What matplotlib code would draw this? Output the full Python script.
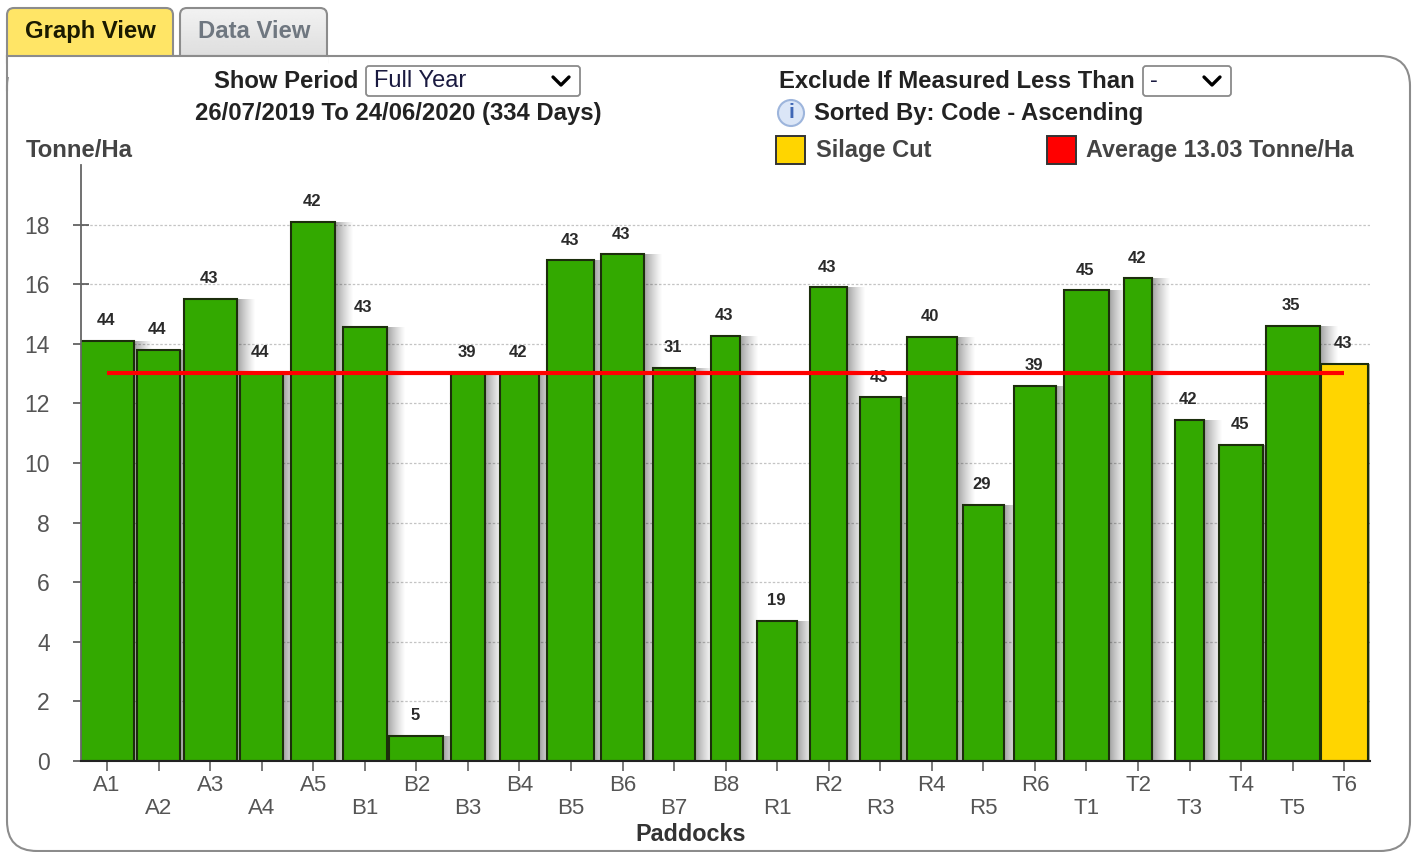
import numpy as np
import matplotlib
matplotlib.use('Agg')
import matplotlib.pyplot as plt
from matplotlib.patches import FancyBboxPatch, Rectangle, Circle

plt.rcParams['font.family'] = ['Liberation Sans', 'DejaVu Sans']

# Data
paddocks = ['A1', 'A2', 'A3', 'A4', 'A5', 'B1', 'B2', 'B3', 'B4', 'B5', 'B6', 'B7', 'B8',
            'R1', 'R2', 'R3', 'R4', 'R5', 'R6', 'T1', 'T2', 'T3', 'T4', 'T5', 'T6']
tonne_ha = [14.1, 13.8, 15.5, 13.03, 18.1, 14.55, 0.85, 13.03, 13.03, 16.8, 17.0, 13.2, 14.27,
            4.7, 15.9, 12.2, 14.23, 8.6, 12.6, 15.8, 16.2, 11.45, 10.6, 14.6, 13.33]
measured = [44, 44, 43, 44, 42, 43, 5, 39, 42, 43, 43, 31, 43,
            19, 43, 43, 40, 29, 39, 45, 42, 42, 45, 35, 43]
# bar widths differ per paddock, in category units
bar_widths = [1.03, 0.85, 1.03, 0.83, 0.85, 0.85, 1.05, 0.66, 0.76, 0.91, 0.82, 0.82, 0.56,
              0.78, 0.72, 0.80, 0.97, 0.80, 0.82, 0.89, 0.54, 0.58, 0.85, 1.05, 0.91]
silage_cut = ['T6']
average = 13.03

W, H = 1415, 852
GREEN = '#33a900'
YELLOW = '#ffd500'
EDGE = '#1c2e0c'
TXT = '#222222'

fig = plt.figure(figsize=(W / 100, H / 100), dpi=100, facecolor='white')

# page furniture in pixel coordinates
page = fig.add_axes([0, 0, 1, 1])
page.set_xlim(0, W)
page.set_ylim(H, 0)
page.axis('off')


def soft(txt, x, y, size=17.2, color=TXT, ha='left'):
    return page.text(x, y + 1.5, txt, fontsize=size, color=color, ha=ha, va='center', fontweight='bold')


def box(x0, y0, x1, y1, r, fc, ec, lw=1.4):
    p = FancyBboxPatch((x0 + r, y0 + r), x1 - x0 - 2 * r, y1 - y0 - 2 * r,
                       boxstyle=f'round,pad={r},rounding_size={r}',
                       fc=fc, ec=ec, lw=lw, mutation_aspect=1)
    page.add_patch(p)
    return p


# main panel
box(7, 56, 1410, 851, 30, 'white', '#8c8c8c', 1.5)

# tabs
box(7, 8, 173, 70, 7, '#ffe566', '#8c8c8c', 1.5)
tab2 = box(180, 8, 327, 70, 7, 'none', '#8c8c8c', 1.5)
grad = page.imshow(np.linspace(0.95, 0.87, 50).reshape(-1, 1), cmap='gray', vmin=0, vmax=1,
                   extent=(180, 327, 56, 8), aspect='auto', zorder=0.5)
grad.set_clip_path(tab2)
page.set_xlim(0, W)
page.set_ylim(H, 0)
page.add_patch(Rectangle((6, 57), 322, 20, fc='white', ec='none', zorder=2))
page.plot([7, 327], [56, 56], color='#8c8c8c', lw=1.5, zorder=3)
page.plot([7, 7], [56, 90], color='#8c8c8c', lw=1.5, zorder=3)
soft('Graph View', 90, 30, 17.2, '#1a1a00', 'center').set_zorder(4)
soft('Data View', 254, 30, 17.2, '#6f7780', 'center').set_zorder(4)

# header texts and dropdowns
soft('Show Period', 358, 80, ha='right')
box(366, 66, 580, 96, 3, 'white', '#8a8a8a', 1.3)
page.text(374, 81, 'Full Year', fontsize=17, color='#1a1a40', va='center')
page.plot([553, 561, 569], [77, 85, 77], color='black', lw=2.4, solid_capstyle='round')
soft('26/07/2019 To 24/06/2020 (334 Days)', 398, 112, ha='center')

soft('Exclude If Measured Less Than', 779, 80)
box(1143, 66, 1231, 96, 3, 'white', '#8a8a8a', 1.3)
page.text(1150, 81, '-', fontsize=17, color='#1a1a40', va='center')
page.plot([1204, 1212, 1220], [77, 85, 77], color='black', lw=2.4, solid_capstyle='round')

page.add_patch(Circle((791, 113), 13, fc='#dbe6f7', ec='#9db5dc', lw=1.5))
page.text(791, 113, 'i', fontsize=15, color='#3f67b5', ha='center', va='center', fontweight='bold')
soft('Sorted By: Code - Ascending', 814, 112)

soft('Tonne/Ha', 26, 149, color='#444444')
page.add_patch(Rectangle((776, 136), 29, 28, fc=YELLOW, ec='#333333', lw=1.4))
soft('Silage Cut', 816, 149, 17, '#444444')
page.add_patch(Rectangle((1047, 136), 29, 28, fc='#ff0000', ec='#333333', lw=1.4))
soft('Average 13.03 Tonne/Ha', 1086, 149, 16.8, '#444444')
soft('Paddocks', 691, 833, 16.8, '#333333', 'center')

# chart axes: left 81 px, right 1370 px, bottom 761 px, top 165 px
ax = fig.add_axes([81 / W, 1 - 761 / H, (1370 - 81) / W, (761 - 165) / H])
ax.patch.set_alpha(0)
step = 51.55
ax.set_xlim((81 - 107) / step, (1370 - 107) / step)
ax.set_ylim(0, 20)

x = np.arange(len(paddocks))
colors = [YELLOW if p in silage_cut else GREEN for p in paddocks]

ax.yaxis.grid(True, color='#c4c4c4', ls=(0, (2, 1.5)), lw=0.9)
ax.set_axisbelow(True)

# soft shadow right of each bar
n_shadow = 18
for k in range(n_shadow):
    left = x + np.array(bar_widths) / 2 + k / step
    ax.bar(left, tonne_ha, width=1.0 / step, align='edge',
           color='black', alpha=0.36 * (1 - k / n_shadow) ** 1.2, lw=0, zorder=1.5)

ax.bar(x, tonne_ha, width=bar_widths, color=colors, edgecolor=EDGE, linewidth=1.5, zorder=2)

for i, (v, m) in enumerate(zip(tonne_ha, measured)):
    ax.annotate(str(m), (i, v), xytext=(-1, 14.5), textcoords='offset points', ha='center',
                va='center', fontsize=12, fontweight='bold', color='#2a2a2a', zorder=3)

ax.plot([x[0], x[-1]], [average, average], color='#ff0000', lw=3, zorder=4, solid_capstyle='butt')

for s in ['top', 'right']:
    ax.spines[s].set_visible(False)
ax.spines['left'].set_color('#666666')
ax.spines['left'].set_linewidth(1.3)
ax.spines['bottom'].set_color('#222222')
ax.spines['bottom'].set_linewidth(1.5)
ax.spines['bottom'].set_zorder(5)

ax.set_yticks(np.arange(0, 19, 2))
ax.tick_params(axis='y', direction='inout', length=11, width=1.2, color='#555555',
               labelsize=16.5, labelcolor='#555555', pad=17)
ax.set_xticks(x)
ax.set_xticklabels(paddocks)
ax.tick_params(axis='x', length=7, width=1.1, color='#555555',
               labelsize=16, labelcolor='#555555')
for i, tick in enumerate(ax.xaxis.get_major_ticks()):
    tick.set_pad(3.2 if i % 2 == 0 else 19.7)

fig.savefig('out.png', dpi=100)
